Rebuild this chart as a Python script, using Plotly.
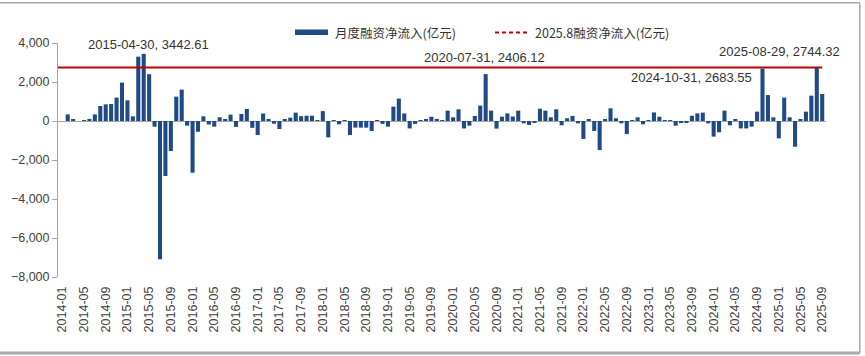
import plotly.graph_objects as go

# ---- data ----
months = [f"{y}-{m:02d}" for y in range(2014, 2026) for m in range(1, 13)][:141]
net_inflow = [
    0, 340, 70, 0, 10, 100, 340, 770, 855, 870, 1200, 1970,            # 2014
    1060, 240, 3300, 3442.61, 2400, -290, -7090, -2820, -1540, 1250, 1610, -240,  # 2015
    -2650, -550, 240, -180, -290, 190, 100, 330, -300, 360, 615, -350,  # 2016
    -720, 385, 88, -140, -410, 88, 170, 430, 250, 270, 270, 10,        # 2017
    510, -840, 50, -170, 50, -720, -340, -340, -340, -510, 10, -150,   # 2018
    -290, 735, 1150, 390, -380, -150, 20, 100, 220, 100, 10, 530,      # 2019
    190, 600, -380, -240, 260, 790, 2406.12, 530, -390, 220, 390, 230,  # 2020
    530, -120, -200, -70, 630, 530, 190, 600, -220, 140, 260, -120,    # 2021
    -920, 100, -510, -1490, 100, 650, 140, -120, -670, 10, 190, -170,  # 2022
    10, 440, 220, 20, 20, -240, -85, -85, 270, 390, 430, -120,         # 2023
    -800, -580, 530, -220, 100, -380, -380, -290, 480, 2683.55, 1330, 190,  # 2024
    -890, 1200, 190, -1320, 85, 480, 1300, 2744.32, 1385,              # 2025
]
ref_value = 2744.32
tick_labels = months[::4]
y_ticks = [-8000, -6000, -4000, -2000, 0, 2000, 4000]
series_name = "月度融资净流入(亿元)"
line_name = "2025.8融资净流入(亿元)"
notes = [
    ("2015-04-30, 3442.61", 0.1172, 0.9915),
    ("2020-07-31, 2406.12", 0.5547, 0.939),
    ("2025-08-29, 2744.32", 0.9401, 0.9658),
    ("2024-10-31, 2683.55", 0.8249, 0.8517),
]

BAR = "#1F4A86"
RED = "#C00000"
TXT = "#333333"
FONT = "Liberation Sans, Arial, sans-serif"
CJK = "Noto Sans CJK SC, sans-serif"

fig = go.Figure()
fig.add_trace(go.Bar(x=months, y=net_inflow, marker_color=BAR, marker_line_width=0,
                     name=series_name, showlegend=False))

n = len(months)
x_range = [-0.79, n - 0.3]
fig.add_shape(type="line", xref="x", yref="y", x0=x_range[0], x1=n - 1,
              y0=ref_value, y1=ref_value, line=dict(color=RED, width=2))

# manual legend
fig.add_shape(type="rect", xref="paper", yref="paper", x0=0.3086, x1=0.3516,
              y0=1.0342, y1=1.0577, fillcolor=BAR, line_width=0)
fig.add_annotation(text=series_name, xref="paper", yref="paper", x=0.358, y=1.0449,
                   xanchor="left", yanchor="middle", showarrow=False,
                   font=dict(family=CJK, size=12.5, color=TXT))
fig.add_shape(type="line", xref="paper", yref="paper", x0=0.569, x1=0.6146,
              y0=1.0449, y1=1.0449, line=dict(color=RED, width=2, dash="4px,3px"))
fig.add_annotation(text=line_name, xref="paper", yref="paper", x=0.6185, y=1.0449,
                   xanchor="left", yanchor="middle", showarrow=False,
                   font=dict(family=CJK, size=12.5, color=TXT))

for t, xp, yp in notes:
    fig.add_annotation(text=t, xref="paper", yref="paper", x=xp, y=yp,
                       xanchor="center", yanchor="middle", showarrow=False,
                       font=dict(family=FONT, size=13, color=TXT))

# outer frame (top, right, bottom)
for x0, y0, x1, y1, w in [(-0.0755, 1.172, 1.044, 1.172, 1.5),
                          (1.044, 1.172, 1.044, -0.325, 1.5),
                          (-0.0755, -0.325, 1.044, -0.325, 3)]:
    fig.add_shape(type="line", xref="paper", yref="paper", x0=x0, y0=y0, x1=x1, y1=y1,
                  line=dict(color="#A8A8A8", width=w))

fig.update_layout(
    width=865, height=356,
    margin=dict(l=58, r=39, t=43, b=79, autoexpand=False),
    paper_bgcolor="white", plot_bgcolor="white",
    bargap=0.25,
    font=dict(family=FONT, size=13, color="#404040"),
    showlegend=False,
)
fig.update_xaxes(type="category", range=x_range, tickmode="array",
                 tickvals=tick_labels, ticktext=tick_labels, tickangle=-90,
                 showgrid=False, showline=False, ticks="", ticklabelstandoff=6,
                 automargin=False,
                 tickfont=dict(family=FONT, size=12.5, color="#404040"))
fig.update_yaxes(range=[-8000, 4000], tickvals=y_ticks, tickformat=",d",
                 showgrid=False, showline=True, linecolor="#A6A6A6", linewidth=1,
                 ticks="outside", ticklen=5, tickcolor="#A6A6A6", automargin=False,
                 zeroline=True, zerolinecolor="#A6A6A6", zerolinewidth=1,
                 tickfont=dict(family=FONT, size=12.5, color="#404040"))

fig.write_html("out.html", config={"displayModeBar": False},
               post_script="document.body.style.margin='0';document.body.style.overflow='hidden';")
